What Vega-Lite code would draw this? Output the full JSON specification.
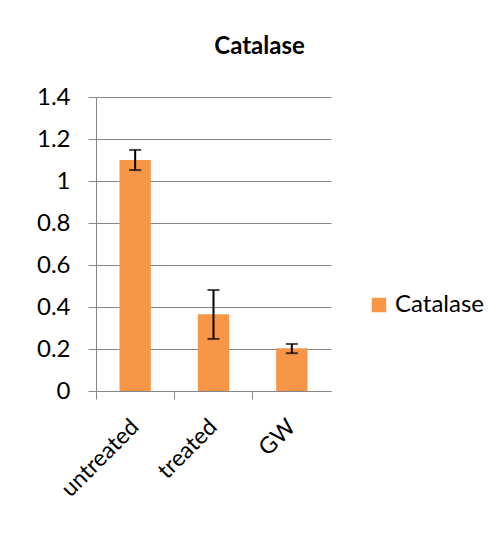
{
  "$schema": "https://vega.github.io/schema/vega-lite/v6.json",
  "width": 235,
  "height": 294,
  "autosize": {"type": "none"},
  "padding": {"left": 96, "top": 97, "right": 172, "bottom": 148},
  "background": "white",
  "config": {
    "font": "Lato",
    "view": {"stroke": null}
  },
  "title": {
    "text": "Catalase",
    "fontSize": 24,
    "fontWeight": "bold",
    "color": "#000000",
    "anchor": "middle",
    "dx": 46,
    "offset": 26
  },
  "data": {
    "values": [
      {"group": "untreated", "series": "Catalase", "value": 1.1, "lo": 1.052, "hi": 1.148},
      {"group": "treated", "series": "Catalase", "value": 0.365, "lo": 0.248, "hi": 0.481},
      {"group": "GW", "series": "Catalase", "value": 0.203, "lo": 0.18, "hi": 0.224}
    ]
  },
  "encoding": {
    "x": {
      "field": "group",
      "type": "nominal",
      "sort": ["untreated", "treated", "GW"],
      "scale": {"paddingInner": 0, "paddingOuter": 0},
      "axis": {
        "title": null,
        "labelAngle": -45,
        "labelAlign": "right",
        "labelBaseline": "middle",
        "labelPadding": 24,
        "labelFontSize": 23,
        "labelColor": "#000000",
        "domainColor": "#868686",
        "tickColor": "#868686",
        "tickSize": 8,
        "bandPosition": 0,
        "grid": false
      }
    }
  },
  "layer": [
    {
      "mark": {"type": "bar", "width": {"band": 0.4}, "color": "#F79646"},
      "encoding": {
        "y": {
          "field": "value",
          "type": "quantitative",
          "scale": {"domain": [0, 1.4], "nice": false},
          "axis": {
            "title": null,
            "values": [0, 0.2, 0.4, 0.6, 0.8, 1, 1.2, 1.4],
            "format": "~g",
            "labelFontSize": 24,
            "labelColor": "#000000",
            "labelPadding": 18,
            "domainColor": "#868686",
            "tickColor": "#868686",
            "tickSize": 8,
            "gridColor": "#868686",
            "gridWidth": 1
          }
        },
        "color": {
          "field": "series",
          "type": "nominal",
          "scale": {"range": ["#F79646"]},
          "legend": {
            "title": null,
            "orient": "none",
            "legendX": 271,
            "legendY": 196,
            "padding": 0,
            "symbolType": "square",
            "symbolSize": 210,
            "symbolStrokeWidth": 0,
            "labelFontSize": 24,
            "labelColor": "#000000",
            "labelOffset": 4
          }
        }
      }
    },
    {
      "mark": {"type": "rule", "color": "#000000", "strokeWidth": 2},
      "encoding": {
        "y": {"field": "lo", "type": "quantitative"},
        "y2": {"field": "hi"}
      }
    },
    {
      "mark": {"type": "tick", "color": "#000000", "thickness": 2, "size": 12},
      "encoding": {"y": {"field": "lo", "type": "quantitative"}}
    },
    {
      "mark": {"type": "tick", "color": "#000000", "thickness": 2, "size": 12},
      "encoding": {"y": {"field": "hi", "type": "quantitative"}}
    }
  ]
}
